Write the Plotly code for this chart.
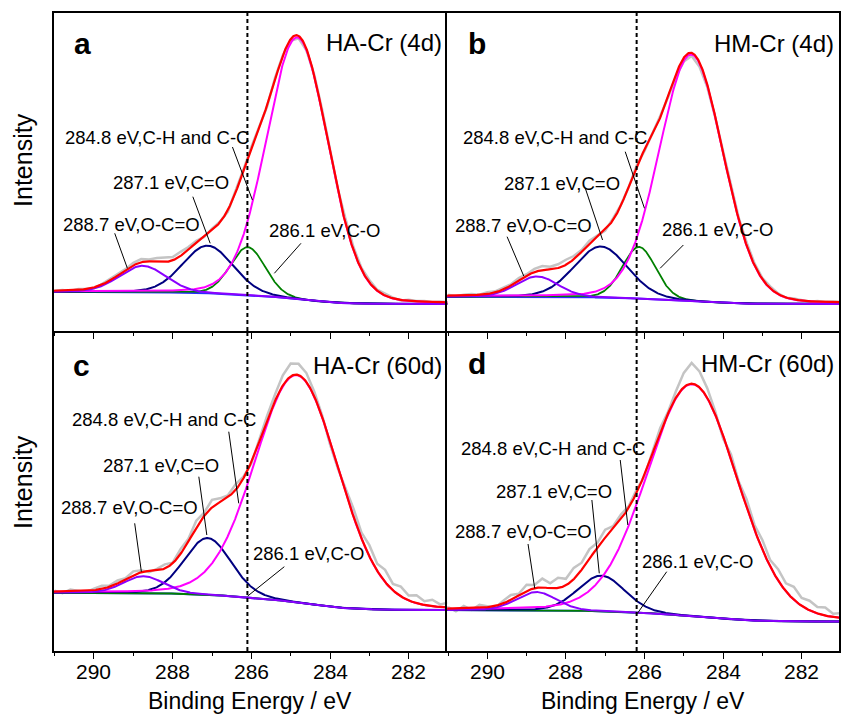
import numpy as np
import plotly.graph_objects as go

# ---------------- data ----------------
panel_letters = ["a", "b", "c", "d"]
panel_titles = ["HA-Cr (4d)", "HM-Cr (4d)", "HA-Cr (60d)", "HM-Cr (60d)"]
peak_labels = ["284.8 eV,C-H and C-C", "287.1 eV,C=O", "288.7 eV,O-C=O", "286.1 eV,C-O"]
x_title = "Binding Energy / eV"
y_title = "Intensity"
tick_values = [290, 288, 286, 284, 282]
tick_labels = ["290", "288", "286", "284", "282"]
minor_tick_values = [291, 289, 287, 285, 283, 281]

# C-H / C-C component (284.8 eV)
cc_center = [284.83, 284.81, 284.84, 284.78]
cc_height = [82.3, 77.5, 71.1, 72.6]
cc_fwhm = [1.85, 1.92, 2.5, 2.7]
# C-O component (286.1 eV)
co_center = [286.09, 286.14, 286.10, 286.20]
co_height = [15.0, 16.2, 0.0, 0.0]
co_fwhm = [1.05, 1.0, 1.0, 1.0]
# C=O component (287.1 eV)
cdo_center = [287.11, 287.11, 287.11, 287.10]
cdo_height = [15.0, 16.0, 17.7, 11.1]
cdo_fwhm = [1.5, 1.6, 1.4, 1.4]
# O-C=O component (288.7 eV)
occo_center = [288.76, 288.73, 288.74, 288.75]
occo_height = [8.3, 6.4, 5.3, 5.7]
occo_fwhm = [1.4, 1.25, 1.2, 1.2]
# background level at the high / low binding-energy ends
bg_high = [12.3, 10.8, 18.2, 12.8]
bg_low = [8.5, 8.5, 12.8, 9.2]

# dashed reference line positions
ref_line = [286.1, 286.2, 286.1, 286.2]

# raw spectrum: deviation of the measured data from the fit, every 0.2 eV (291 -> 281)
raw_energy = [round(291.0 - 0.2 * i, 1) for i in range(51)]
raw_dev_a = [0, 0.2, -0.2, 0.3, 0, -0.3, 0.2, 0.4,
             0.5, 0.3, 0.8, 1.0, 0.6, 1.2, 1.5, 1.0,
             1.3, 0.8, 0.5, -0.3, 0.4, 0.2, -0.5, 0.3,
             0.5, 0.8, 0.3, -0.4, 0.6, 0.2, -0.5, -0.8,
             -0.5, 0.3, 0.8, 1.2, 0.6, 1.4, 0.9, 0.5,
             0.8, 0.3, 0.6, 0.2, -0.2, 0.3, 0.1, 0.2,
             -0.1, 0.2, 0.0]
raw_dev_b = [0.3, -0.2, 0.2, 0.4, 0, 0.5, 0.3, 0.6,
             0.4, 0.8, 0.5, 1.0, 1.3, 0.8, 1.2, 1.6,
             1.0, 0.6, 1.1, 0.4, -0.3, 0.5, 0.2, -0.2,
             0.3, -0.4, 0.2, 0.5, -0.3, -0.8, -1.2, -1.0,
             -1.4, -0.8, -0.3, 0.4, 0.8, 0.5, 1.0, 0.6,
             0.3, 0.6, 0.2, -0.1, 0.3, 0.1, -0.2, 0.2,
             0.0, 0.2, 0.1]
raw_dev_c = [0.3, -0.5, 0.6, 0.2, -0.4, 0.5, 1.0, 0.4,
             0.9, 0.3, 1.2, 0.6, -0.4, 0.5, 1.3, 0.2,
             1.5, 0.8, 2.2, 1.0, 2.4, 1.2, 0.6, 1.8,
             0.5, -0.5, 0.8, 1.5, 2.0, 3.2, 4.0, 3.5,
             2.8, 1.5, 0.5, -1.0, -0.5, 1.2, 2.5, 1.8,
             3.5, 2.2, 3.8, 2.0, 3.0, 1.5, 2.5, 1.2,
             2.0, 0.8, 1.5]
raw_dev_d = [0.5, -0.8, 0.8, -0.5, 1.0, 0.2, -0.6, 0.8,
             1.5, 0.5, 2.0, 1.0, 2.8, 1.5, 3.2, 2.0,
             3.5, 2.2, 3.0, 1.5, 2.5, 0.8, 1.5, 0.5,
             1.0, -0.5, 0.8, 1.5, 0.5, 2.0, 4.5, 6.5,
             5.0, 3.0, 1.0, -1.0, 1.5, 0.5, 2.5, 1.5,
             3.0, 2.0, 3.5, 2.5, 4.0, 2.5, 3.0, 2.0,
             2.5, 1.0, 1.5]
raw_devs = [raw_dev_a, raw_dev_b, raw_dev_c, raw_dev_d]

# ---------------- styling / layout ----------------
W, H = 841, 720
FONT = "Liberation Sans, Arial, Helvetica, sans-serif"
ETA = 0.1  # Lorentzian fraction of the pseudo-Voigt line shape

def fx(p):
    return p / W

def fy(p):
    return 1 - p / H

x_dom = [[fx(54), fx(448.3)], [fx(448.3), 1.0]] * 2
y_dom = [[fy(331), fy(12.7)]] * 2 + [[fy(651), fy(331)]] * 2
x_rng = [[291.02, 281.02], [291.02, 281.05]] * 2

COL_RAW = "#c4c4c4"
COL_BG = "#2a2aff"
COL_CO = "#008000"
COL_CDO = "#000080"
COL_CC = "#ff00ff"
COL_OCCO = "#8a00ff"
COL_FIT = "#ff0000"


def pv(e, c, h, w):
    e = np.asarray(e, dtype=float)
    g = np.exp(-4 * np.log(2) * (e - c) ** 2 / w ** 2)
    l = 1.0 / (1 + 4 * (e - c) ** 2 / w ** 2)
    return h * ((1 - ETA) * g + ETA * l)


fine = np.linspace(291.1, 280.9, 1021)

fig = go.Figure()
annotations = []
shapes = []

for k in range(4):
    ax = "" if k == 0 else str(k + 1)
    xr, yr = "x" + ax, "y" + ax
    comps = [
        (co_center[k], co_height[k], co_fwhm[k], COL_CO, 1.8),
        (cdo_center[k], cdo_height[k], cdo_fwhm[k], COL_CDO, 2.0),
        (cc_center[k], cc_height[k], cc_fwhm[k], COL_CC, 2.0),
        (occo_center[k], occo_height[k], occo_fwhm[k], COL_OCCO, 2.0),
    ]
    peaks = [pv(fine, c, h, w) for c, h, w, _, _ in comps]
    total = np.sum(peaks, axis=0)
    # Shirley-type background: cumulative area from low binding energy side
    rev = total[::-1]
    step = abs(fine[1] - fine[0])
    cum = np.concatenate([[0], np.cumsum((rev[1:] + rev[:-1]) / 2 * step)])[::-1]
    bg = bg_low[k] + (bg_high[k] - bg_low[k]) * cum / cum[0]
    fit = bg + total

    raw_fit = np.interp(raw_energy[::-1], fine[::-1], fit[::-1])[::-1]
    raw = raw_fit + np.array(raw_devs[k])

    fig.add_trace(go.Scatter(x=raw_energy, y=raw, mode="lines", xaxis=xr, yaxis=yr,
                             line=dict(color=COL_RAW, width=2.5), hoverinfo="skip"))
    fig.add_trace(go.Scatter(x=fine, y=bg, mode="lines", xaxis=xr, yaxis=yr,
                             line=dict(color=COL_BG, width=2)))
    for (c, h, w, col, lw), p in zip(comps, peaks):
        fig.add_trace(go.Scatter(x=fine, y=bg + p, mode="lines", xaxis=xr, yaxis=yr,
                                 line=dict(color=col, width=lw)))
    fig.add_trace(go.Scatter(x=fine, y=fit, mode="lines", xaxis=xr, yaxis=yr,
                             line=dict(color=COL_FIT, width=2.2)))

    bottom = k >= 2
    right = k % 2 == 1
    fig.layout["xaxis" + ax] = dict(
        domain=x_dom[k], anchor=yr, range=x_rng[k], showline=True, mirror=not bottom,
        linecolor="black", linewidth=1.5, ticks="outside", tickvals=tick_values,
        ticklen=6, tickwidth=1.3, tickcolor="black", showgrid=False, zeroline=False,
        showticklabels=False,
        minor=dict(tickvals=minor_tick_values, ticks="outside", ticklen=3,
                   tickwidth=1.2, tickcolor="black", showgrid=False),
    )
    fig.layout["yaxis" + ax] = dict(
        domain=y_dom[k], anchor=xr, range=[0, 100], showline=True, mirror=right,
        linecolor="black", linewidth=1.5, ticks="", showticklabels=False,
        showgrid=False, zeroline=False,
    )
    shapes.append(dict(type="line", xref=xr, yref=yr + " domain", x0=ref_line[k], x1=ref_line[k],
                       y0=0, y1=1, line=dict(color="black", width=2, dash="4px,3px")))
    if bottom:
        # tick labels placed on the axis scale
        for tv, tl in zip(tick_values, tick_labels):
            annotations.append(dict(text=tl, x=tv, xref=xr, y=fy(671), yref="paper",
                                    xanchor="center", yanchor="middle", showarrow=False,
                                    font=dict(family=FONT, size=21, color="black")))

# ---------------- text annotations (pixel positions) ----------------
letter_pos = [(82.5, 43), (478.5, 43), (81.5, 365), (478.5, 363)]
title_pos = [(445, 42), (838, 43), (445, 365), (838, 363)]
label_pos = [
    [(63, 137.7), (111, 182.3), (61, 224), (268, 230.7)],
    [(461.7, 137.7), (503, 183.3), (454, 225), (661.7, 230)],
    [(70, 419.3), (101.7, 465), (59.3, 507.7), (251.7, 553.3)],
    [(460, 448.3), (495, 491.7), (454, 531.7), (641.7, 561.7)],
]
leader_pos = [
    [(233, 147, 253, 200), (193.3, 196.7, 210.7, 243.3), (115, 233.3, 127.7, 268.3), (301.7, 243.3, 275, 273.3)],
    [(626.7, 151.7, 646, 208.3), (586.7, 188.3, 604, 240), (508.3, 236.7, 525, 276), (685, 245, 661.7, 268.3)],
    [(229.3, 431.7, 239.3, 503.3), (199.3, 476.7, 207.3, 535), (135, 523.3, 141.7, 571.7), (285, 566.7, 248.3, 596)],
    [(621.7, 460, 629.3, 525), (593.3, 500, 600.7, 573.3), (529.3, 544, 536, 588.3), (668.3, 571.7, 639, 613.3)],
]

for k in range(4):
    lx, ly = letter_pos[k]
    annotations.append(dict(text="<b>%s</b>" % panel_letters[k], x=fx(lx), y=fy(ly), xref="paper",
                            yref="paper", xanchor="center", yanchor="middle", showarrow=False,
                            font=dict(family=FONT, size=30, color="black")))
    tx, ty = title_pos[k]
    annotations.append(dict(text=panel_titles[k], x=fx(tx), y=fy(ty), xref="paper", yref="paper",
                            xanchor="right", yanchor="middle", showarrow=False,
                            font=dict(family=FONT, size=24, color="black")))
    for j in range(4):
        px_, py_ = label_pos[k][j]
        annotations.append(dict(text=peak_labels[j], x=fx(px_), y=fy(py_), xref="paper", yref="paper",
                                xanchor="left", yanchor="middle", showarrow=False,
                                font=dict(family=FONT, size=18.5, color="black")))
        x0, y0, x1, y1 = leader_pos[k][j]
        shapes.append(dict(type="line", xref="paper", yref="paper", x0=fx(x0), y0=fy(y0),
                           x1=fx(x1), y1=fy(y1), line=dict(color="black", width=1)))

for cx in (250.5, 645):
    annotations.append(dict(text=x_title, x=fx(cx), y=fy(701), xref="paper", yref="paper",
                            xanchor="center", yanchor="middle", showarrow=False,
                            font=dict(family=FONT, size=23, color="black")))
for cy in (160, 482):
    annotations.append(dict(text=y_title, x=fx(23), y=fy(cy), xref="paper", yref="paper",
                            xanchor="center", yanchor="middle", showarrow=False, textangle=-90,
                            font=dict(family=FONT, size=25, color="black")))

fig.update_layout(
    width=W, height=H, margin=dict(l=0, r=0, t=0, b=0),
    paper_bgcolor="white", plot_bgcolor="white", showlegend=False,
    annotations=annotations, shapes=shapes,
    font=dict(family=FONT, color="black"),
)

fig.write_html("out.html")
